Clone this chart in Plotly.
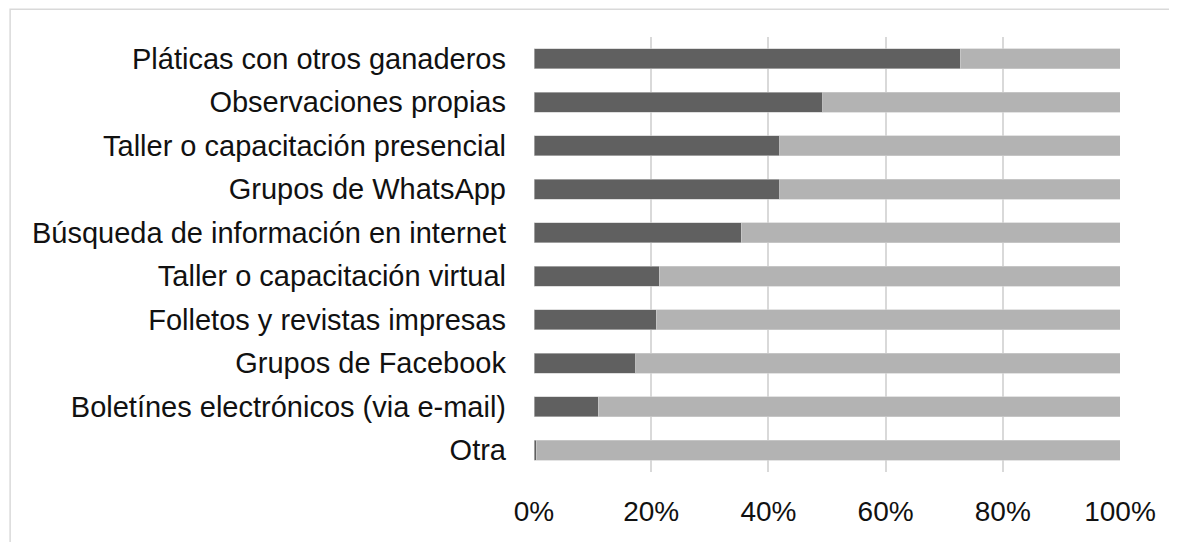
import plotly.graph_objects as go

# Categories (top to bottom as shown)
fuentes = [
    "Pláticas con otros ganaderos",
    "Observaciones propias",
    "Taller o capacitación presencial",
    "Grupos de WhatsApp",
    "Búsqueda de información en internet",
    "Taller o capacitación virtual",
    "Folletos y revistas impresas",
    "Grupos de Facebook",
    "Boletínes electrónicos (via e-mail)",
    "Otra",
]

# share that uses the source (dark) and share that does not (light), in %
si = [72.7, 49.3, 41.9, 41.9, 35.4, 21.4, 20.9, 17.4, 11.0, 0.4]
no = [27.3, 50.7, 58.1, 58.1, 64.6, 78.6, 79.1, 82.6, 89.0, 99.6]

x_ticks = [0, 20, 40, 60, 80, 100]
x_tick_text = ["0%", "20%", "40%", "60%", "80%", "100%"]

FONT = "Liberation Sans, Arial, sans-serif"

fig = go.Figure()
fig.add_trace(go.Bar(
    y=fuentes, x=si, orientation="h", name="Sí",
    marker=dict(color="#606060", line=dict(color="#c8c8c8", width=0.6)),
))
fig.add_trace(go.Bar(
    y=fuentes, x=no, orientation="h", name="No",
    marker=dict(color="#b3b3b3", line=dict(color="#d0d0d0", width=0.6)),
))

# the page body adds 8px on the left/top, margins are set with that in mind
fig.update_layout(
    barmode="stack",
    bargap=0.54,
    width=1177,
    height=542,
    margin=dict(l=525.5, r=64.5, t=28.5, b=78),
    paper_bgcolor="white",
    plot_bgcolor="white",
    showlegend=False,
    font=dict(family=FONT, size=29, color="#111111"),
)

fig.update_xaxes(
    range=[0, 100],
    tickvals=x_ticks,
    ticktext=x_tick_text,
    showgrid=True,
    gridcolor="#d9d9d9",
    gridwidth=1.5,
    zeroline=False,
    showline=False,
    ticks="",
    ticklabelstandoff=20,
    tickfont=dict(size=28, family=FONT),
)
fig.update_yaxes(
    categoryorder="array",
    categoryarray=fuentes[::-1],
    showgrid=False,
    zeroline=False,
    showline=False,
    ticks="",
    ticklabelstandoff=27,
    tickfont=dict(size=29, family=FONT),
)

# light frame around the chart area (runs off the right/bottom of the image)
fig.add_shape(
    type="rect", xref="paper", yref="paper",
    x0=-0.894, x1=1.2, y0=-0.3, y1=1.0637,
    line=dict(color="#d9d9d9", width=1.5),
    layer="below",
)

fig.write_html("out.html")
